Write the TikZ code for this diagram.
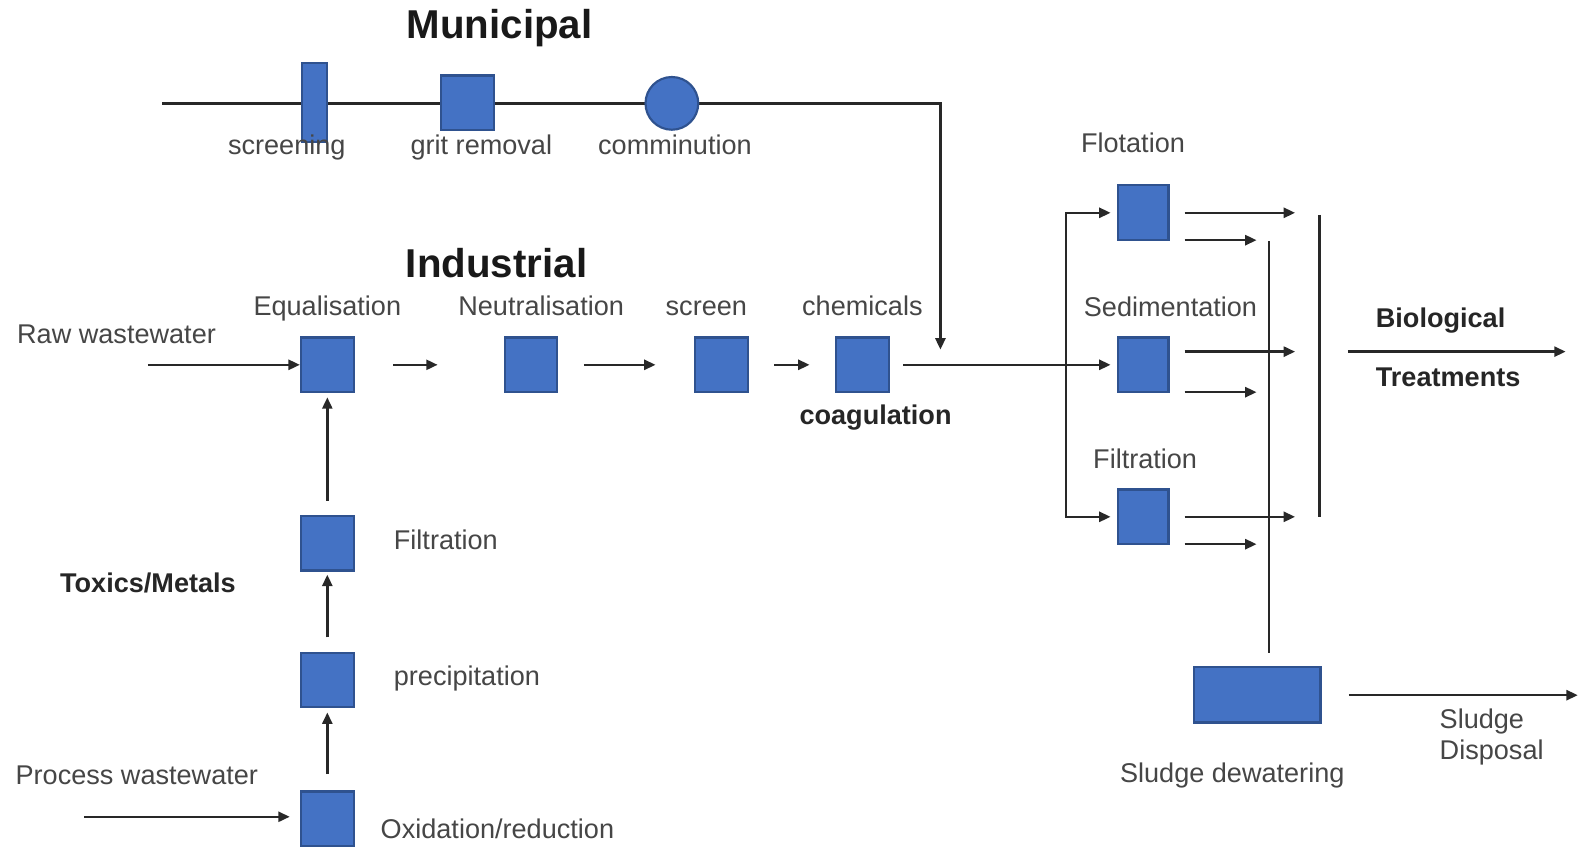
\documentclass[tikz,border=0pt]{standalone}
\usepackage{fontspec}
\setmainfont{Liberation Sans}
\usetikzlibrary{arrows.meta,calc}
\definecolor{boxblue}{RGB}{68,114,196}
\definecolor{boxedge}{RGB}{47,82,143}
\definecolor{linec}{RGB}{40,40,40}
\definecolor{txt}{RGB}{70,70,70}
\begin{document}
\begin{tikzpicture}[x=0.01cm,y=-0.01cm,
  box/.style={draw=boxedge, fill=boxblue, line width=0.6pt, inner sep=0, minimum width=0.52cm, minimum height=0.54cm},
  lbl/.style={font=\fontsize{7.6}{8.6}\selectfont, text=txt, inner sep=0},
  blbl/.style={font=\fontsize{7.6}{9}\selectfont\bfseries, text=black!85, inner sep=0},
  ttl/.style={font=\fontsize{11.3}{13}\selectfont\bfseries, text=black!90, inner sep=0},
  ln/.style={draw=linec, line width=0.7pt},
  arr/.style={ln, -{Triangle[length=3.2pt,width=2.8pt]}}]
\fill[white] (0,0) rectangle (1568,840);
\useasboundingbox (0,0) rectangle (1568,840);

% ---------- Municipal ----------
\node[ttl] (tmun) at (493,28) {Municipal};
\coordinate (m0) at (160,102);
\coordinate (m1) at (928,102);
\coordinate (m2) at (928,345);
\draw[arr] (m0) -- (m1) -- (m2);
\node[box, minimum width=0.25cm, minimum height=0.78cm] (scr) at (310.5,101) {};
\node[box] (grit) at (461.5,101.5) {};
\node[box, circle, minimum size=0.52cm] (comm) at (663,102) {};
\node[lbl, anchor=base] (lscr) at (283,152) {screening};
\node[lbl, anchor=base] (lgrit) at (475,152) {grit removal};
\node[lbl, anchor=base] (lcomm) at (666,152) {comminution};

% ---------- Industrial ----------
\node[ttl] (tind) at (490,260) {Industrial};
\node[lbl, anchor=base] (leq) at (323,311) {Equalisation};
\node[lbl, anchor=base] (lneut) at (534,311) {Neutralisation};
\node[lbl, anchor=base] (lscrn) at (697,311) {screen};
\node[lbl, anchor=base] (lchem) at (851,311) {chemicals};
\node[lbl] (lraw) at (115,330) {Raw wastewater};
\node[blbl] (lcoag) at (864,412) {coagulation};

\node[box] (eq) at (323,360) {};
\node[box] (neut) at (524,360) {};
\node[box] (scrn) at (712,360) {};
\node[box] (chem) at (851,360) {};

\coordinate (rawin) at (146,360);
\draw[arr] (rawin) -- (eq.west);
\draw[arr, shorten <=0.38cm, shorten >=0.65cm] (eq) -- (neut);
\draw[arr, shorten <=0.25cm, shorten >=0.38cm] (neut) -- (scrn);
\draw[arr, shorten <=0.25cm, shorten >=0.25cm] (scrn) -- (chem);

% ---------- Toxics / Metals chain ----------
\node[box] (filtl) at (323,536) {};
\node[box] (prec) at (323,671) {};
\node[box] (oxid) at (323,808) {};
\node[lbl, anchor=west] (lfiltl) at (388,533) {Filtration};
\node[lbl, anchor=west] (lprec) at (388,670) {precipitation};
\node[lbl, anchor=west] (loxid) at (375,818) {Oxidation/reduction};
\node[blbl] (ltox) at (146,575) {Toxics/Metals};
\node[lbl] (lproc) at (135,765) {Process wastewater};

\draw[arr, shorten <=0.14cm, shorten >=0.04cm] (filtl.north) -- (eq.south);
\draw[arr, shorten <=0.14cm, shorten >=0.03cm] (prec.north) -- (filtl.south);
\draw[arr, shorten <=0.16cm, shorten >=0.04cm] (oxid.north) -- (prec.south);
\coordinate (procin) at (83,806);
\draw[arr, shorten >=0.1cm] (procin) -- (procin -| oxid.west);

% ---------- Separation stage ----------
\node[box, minimum width=0.50cm] (flot) at (1128,210) {};
\node[box, minimum width=0.50cm] (sed) at (1128,360) {};
\node[box, minimum width=0.50cm] (filt) at (1128,510) {};
\node[lbl] (lflot) at (1118,141) {Flotation};
\node[lbl] (lsed) at (1155,303) {Sedimentation};
\node[lbl] (lfilt) at (1130,453) {Filtration};

\draw[arr, shorten <=0.13cm, shorten >=0.06cm] (chem) -- (sed);
\coordinate (bm) at (1052,360);
\draw[arr, shorten >=0.06cm] (bm) |- (flot.west);
\draw[arr, shorten >=0.06cm] (bm) |- (filt.west);

\coordinate (fo1) at (1278,210);
\coordinate (fo2) at (1240,237);
\coordinate (so1) at (1278,347);
\coordinate (so2) at (1240,387);
\coordinate (io1) at (1278,510);
\coordinate (io2) at (1240,537);
\draw[arr] ([xshift=0.15cm]flot.east) -- (fo1);
\draw[arr] ([xshift=0.15cm]flot.east |- fo2) -- (fo2);
\draw[arr] ([xshift=0.15cm]sed.east |- so1) -- (so1);
\draw[arr] ([xshift=0.15cm]sed.east |- so2) -- (so2);
\draw[arr] ([xshift=0.15cm]filt.east) -- (io1);
\draw[arr] ([xshift=0.15cm]filt.east |- io2) -- (io2);

\coordinate (c1) at (1302,212);
\coordinate (c2) at (1302,510);
\draw[ln] (c1) -- (c2);

% ---------- Biological ----------
\coordinate (b1) at (1330,347);
\coordinate (b2) at (1545,347);
\draw[arr] (b1) -- (b2);
\node[blbl, anchor=west] (lbio) at (1357,316) {Biological};
\node[blbl, anchor=west] (ltreat) at (1357,372) {Treatments};

% ---------- Sludge ----------
\node[box, minimum width=1.25cm, minimum height=0.55cm] (sludge) at (1240.5,685.5) {};
\coordinate (s1) at (1252,238);
\draw[ln, shorten >=0.13cm] (s1) -- (s1 |- sludge.north);
\coordinate (sd) at (1557,686);
\draw[arr, shorten <=0.27cm] (sludge.east |- sd) -- (sd);
\node[lbl, anchor=west, align=left] (ldisp) at (1420,727) {Sludge\\Disposal};
\node[lbl] (ldew) at (1216,765) {Sludge dewatering};
\end{tikzpicture}
\end{document}
